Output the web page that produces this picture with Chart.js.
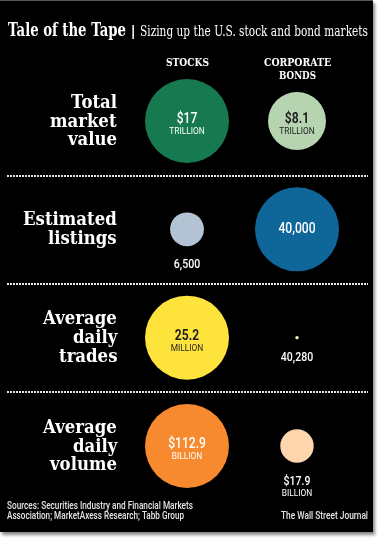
<!DOCTYPE html>
<html>
<head>
<meta charset="utf-8">
<script src="https://cdn.jsdelivr.net/npm/chart.js@4/dist/chart.umd.min.js"></script>
<style>
  html, body { margin: 0; width: 380px; height: 539px; overflow: hidden; background: #fff; }
  #panel { position: absolute; left: 0; top: 0; width: 373px; height: 532px; background: #000;
           border-top: 1px solid #555; box-sizing: border-box; box-shadow: 2px 3px 3px #8a8a8a; }
  #c { position: absolute; left: 0; top: 0; pointer-events: none; }
  .t { position: absolute; white-space: nowrap; color: #fff; line-height: 1.2; transform-origin: 0 0; }
  .sep { position: absolute; left: 7px; width: 361px; height: 2px;
         background: repeating-linear-gradient(to right, #e6e6e6 0 2px, transparent 2px 3px); }
</style>
</head>
<body>
<div id="panel"></div>
<canvas id="c" width="380" height="539"></canvas>
<script>
const $ = id => document.getElementById(id);

// data
const columns = ['STOCKS', 'CORPORATE BONDS'];
const rowLabels = [['Total', 'market', 'value'], ['Estimated', 'listings'], ['Average', 'daily', 'trades'], ['Average', 'daily', 'volume']];
const stockValues = [17, 6500, 25200000, 112.9];
const bondValues = [8.1, 40000, 40280, 17.9];
const stockLabels = ['$17', '6,500', '25.2', '$112.9'];
const bondLabels = ['$8.1', '40,000', '40,280', '$17.9'];
const stockUnits = ['TRILLION', '', 'MILLION', 'BILLION'];
const bondUnits = ['TRILLION', '', '', 'BILLION'];

// styles
const stockColors = ['#17794f', '#b3c3d3', '#fde33b', '#f7892f'];
const bondColors = ['#b6d4b0', '#0e6699', '#fff8d0', '#fdd6ae'];
const stockInk = ['#fff', '#fff', '#1e1e1e', '#fff'];
const bondInk = ['#1e1e1e', '#fff', '#fff', '#fff'];
const RMAX = 42;
const SERIF = '"DejaVu Serif", serif';
const SANS = 'Roboto, "Open Sans", sans-serif';

const radius = (v, i) => RMAX * Math.sqrt(v / Math.max(stockValues[i], bondValues[i]));

function put(text, { x, y, align = 'left', font, color = '#fff', w, sx }) {
  const d = document.createElement('div');
  d.className = 't';
  d.style.font = font;
  d.style.color = color;
  d.append(text);
  const probe = document.createElement('span');
  probe.style.cssText = 'display:inline-block;width:0;height:0;vertical-align:baseline';
  d.appendChild(probe);
  document.body.appendChild(d);
  const box = d.getBoundingClientRect();
  const base = probe.getBoundingClientRect().bottom - box.top;
  const s = w ? w / box.width : (sx || 1);
  const tw = box.width * s;
  const left = align === 'left' ? x : align === 'right' ? x - tw : x - tw / 2;
  d.style.transform = `scaleX(${s})`;
  d.style.left = left + 'px';
  d.style.top = (y - base) + 'px';
}

function drawText(ctx, s, x, y, font, color, sx = 0.8) {
  ctx.save();
  ctx.font = font;
  ctx.fillStyle = color;
  ctx.textAlign = 'center';
  ctx.textBaseline = 'alphabetic';
  ctx.translate(x, y);
  ctx.scale(sx, 1);
  ctx.fillText(s, 0, 0);
  ctx.restore();
}

const valueLabels = {
  id: 'valueLabels',
  afterDatasetsDraw(chart) {
    const ctx = chart.ctx;
    chart.data.datasets.forEach((ds, di) => {
      const labels = di ? bondLabels : stockLabels;
      const units = di ? bondUnits : stockUnits;
      const inks = di ? bondInk : stockInk;
      chart.getDatasetMeta(di).data.forEach((pt, i) => {
        const r = ds.data[i].r;
        const inside = r > 20;
        const color = inside ? inks[i] : '#fff';
        const y = inside ? pt.y + (units[i] ? 2 : 4) : pt.y + r + 22;
        const weight = color === '#fff' ? '500' : '700';
        drawText(ctx, labels[i], pt.x, y, `${weight} ${inside ? 15.5 : 13.5}px ${SANS}`, color, 0.78);
        if (units[i]) drawText(ctx, units[i], pt.x, y + 11, `400 9.5px ${SANS}`, color, 0.88);
      });
    });
  }
};

const chart = new Chart($('c'), {
  type: 'bubble',
  data: {
    datasets: [
      {
        label: columns[0],
        data: stockValues.map((v, i) => ({ x: 0, y: i, r: radius(v, i) })),
        backgroundColor: stockColors,
        borderWidth: 0,
        clip: false
      },
      {
        label: columns[1],
        data: bondValues.map((v, i) => ({ x: 1, y: i, r: radius(v, i) })),
        backgroundColor: bondColors,
        borderWidth: 0,
        clip: false
      }
    ]
  },
  options: {
    responsive: false,
    animation: false,
    events: [],
    layout: { padding: { left: 187, right: 83, top: 121, bottom: 93 } },
    scales: {
      x: { type: 'linear', min: 0, max: 1, display: false },
      y: { type: 'linear', min: 0, max: 3, reverse: true, display: false }
    },
    plugins: { legend: { display: false }, tooltip: { enabled: false } }
  },
  plugins: [valueLabels]
});

// title and headers
put('Tale of the Tape', { x: 8, y: 36, font: `bold 19px ${SERIF}`, w: 118 });
put('|', { x: 131, y: 37, font: `bold 17px ${SANS}`, sx: 1 });
put('Sizing up the U.S. stock and bond markets', { x: 140, y: 36, font: `15px ${SERIF}`, w: 228 });

const xs = chart.scales.x, ys = chart.scales.y;
put('STOCKS', { x: xs.getPixelForValue(0), y: 66, align: 'center', font: `bold 11px ${SERIF}`, w: 43 });
const [h1, h2] = columns[1].split(' ');
put(h1, { x: xs.getPixelForValue(1), y: 66, align: 'center', font: `bold 11px ${SERIF}`, w: 67 });
put(h2, { x: xs.getPixelForValue(1), y: 79, align: 'center', font: `bold 11px ${SERIF}`, w: 37 });

// row labels
rowLabels.forEach((lines, i) => {
  const cy = ys.getPixelForValue(i);
  lines.forEach((line, j) => {
    put(line, { x: 117, y: cy + 5.5 + (j - (lines.length - 1) / 2) * 18.7, align: 'right', font: `bold 19px ${SERIF}`, sx: 0.87 });
  });
});

// dotted separators
for (let i = 0; i < rowLabels.length - 1; i++) {
  const s = document.createElement('div');
  s.className = 'sep';
  s.style.top = Math.round((ys.getPixelForValue(i) + ys.getPixelForValue(i + 1)) / 2 - 0.5) + 'px';
  document.body.appendChild(s);
}

// footer
put('Sources: Securities Industry and Financial Markets', { x: 7, y: 509, font: `500 10px ${SANS}`, color: '#e4e4e4', w: 186 });
put('Association; MarketAxess Research; Tabb Group', { x: 7, y: 519, font: `500 10px ${SANS}`, color: '#e4e4e4', w: 177 });
put('The Wall Street Journal', { x: 368, y: 519, align: 'right', font: `500 10px ${SANS}`, color: '#e4e4e4', w: 87 });
</script>
</body>
</html>
